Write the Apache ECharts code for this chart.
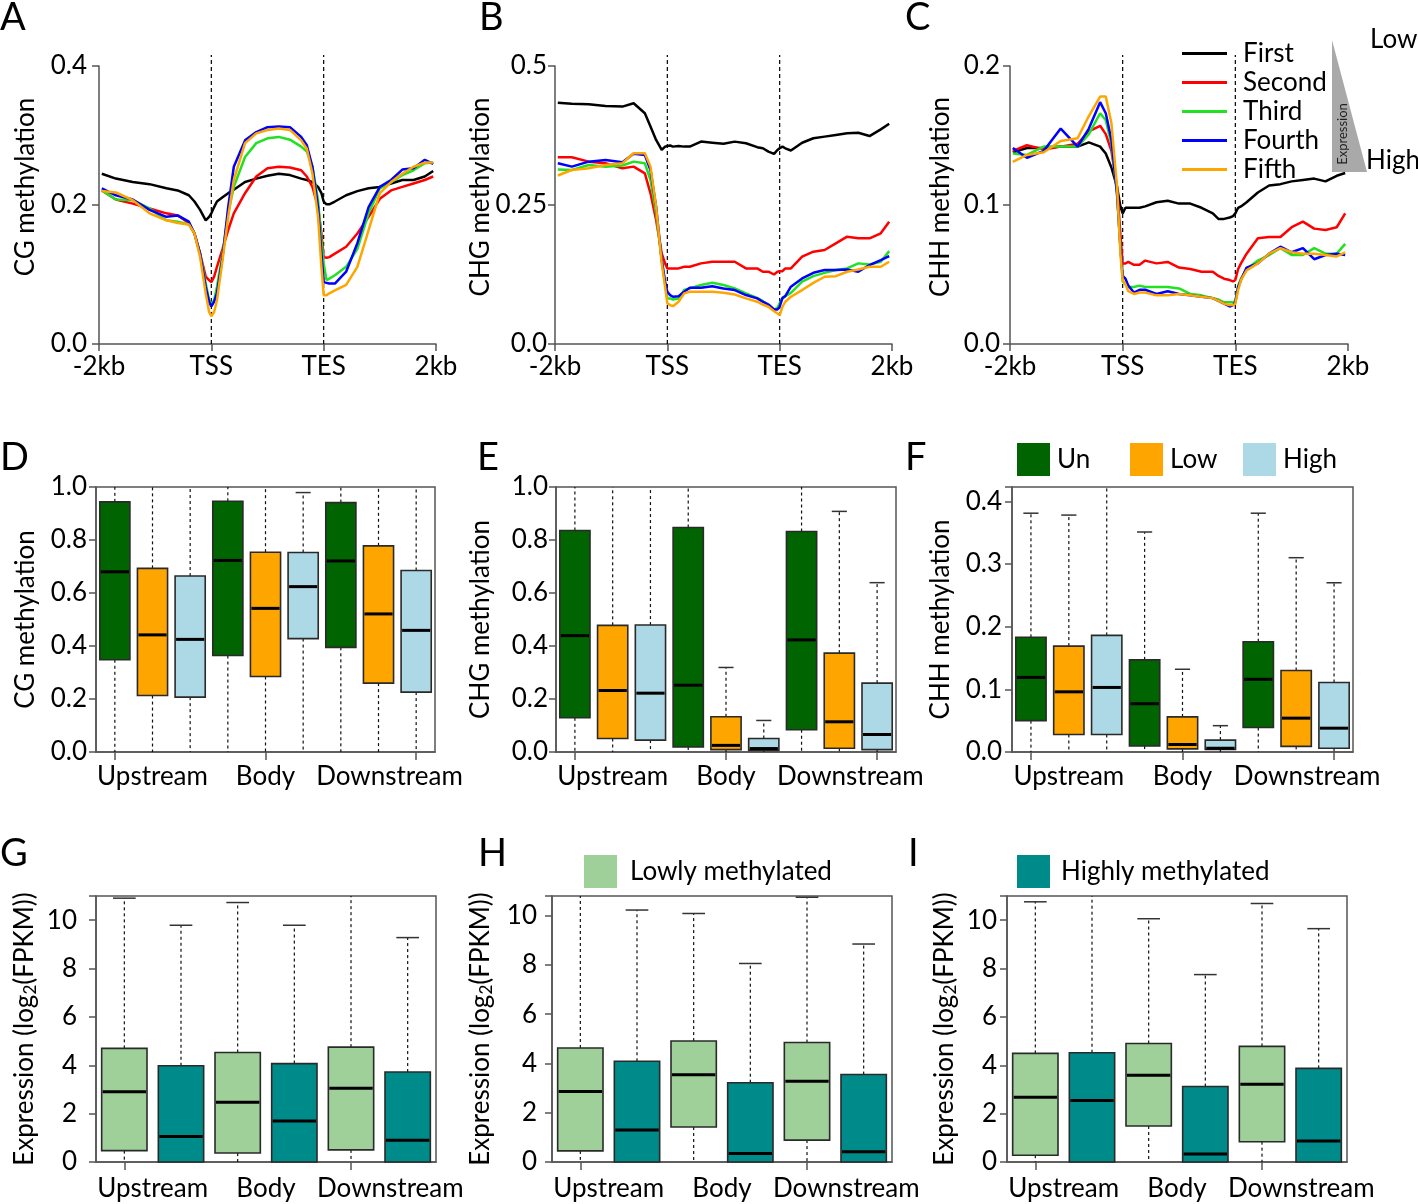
<!DOCTYPE html>
<html><head><meta charset="utf-8">
<script src="https://cdn.jsdelivr.net/npm/echarts@6/dist/echarts.min.js"></script>
<style>html,body{margin:0;padding:0;background:#fff}#c{width:1418px;height:1204px}</style>
</head><body><div id="c"></div>
<script>
// ---------------- DATA ----------------
// x positions in bins: 0..20 upstream (-2kb..TSS), 20..40 gene body, 40..60 downstream (TES..2kb)
const lineX = [0.5,3,6,9,12,14,16,17,18,19,19.6,20,20.5,21,22,23,24,26,28,30,32,34,36,37,38,39,39.6,40,40.5,41,42,44,46,48,50,52,54,56,58,59.5];
const posLabels = ['-2kb','TSS','TES','2kb'];
const expressionRanks = ['First','Second','Third','Fourth','Fifth'];

// Panel A: CG methylation profiles
const cgFirst  = [.245,.238,.233,.230,.224,.221,.214,.205,.193,.178,.183,.188,.197,.205,.211,.217,.222,.233,.238,.242,.245,.243,.238,.236,.233,.226,.217,.205,.201,.201,.205,.214,.220,.224,.226,.231,.236,.236,.241,.249];
const cgSecond = [.221,.208,.202,.195,.188,.185,.174,.159,.130,.097,.092,.089,.097,.111,.137,.164,.188,.217,.241,.253,.255,.254,.250,.241,.226,.197,.159,.125,.124,.125,.130,.140,.159,.183,.209,.221,.226,.231,.236,.241];
const cgThird  = [.221,.208,.207,.195,.178,.176,.172,.159,.130,.087,.063,.058,.063,.082,.130,.188,.226,.269,.289,.296,.298,.294,.284,.277,.255,.207,.149,.116,.092,.094,.099,.111,.137,.188,.224,.233,.243,.250,.260,.261];
const cgFourth = [.224,.214,.208,.193,.183,.185,.176,.159,.130,.082,.061,.054,.061,.073,.125,.197,.255,.293,.305,.312,.313,.312,.298,.286,.255,.197,.130,.089,.088,.087,.087,.104,.145,.197,.226,.236,.251,.253,.265,.259];
const cgFifth  = [.220,.218,.207,.188,.178,.174,.172,.159,.125,.073,.046,.040,.046,.063,.121,.183,.236,.289,.303,.308,.310,.308,.293,.281,.245,.183,.111,.070,.070,.073,.077,.085,.111,.164,.217,.233,.245,.255,.261,.261];
// Panel B: CHG
const chgFirst  = [.434,.432,.431,.428,.427,.433,.415,.391,.367,.349,.355,.356,.357,.355,.356,.355,.355,.364,.362,.360,.364,.361,.354,.352,.346,.342,.349,.352,.355,.352,.348,.362,.370,.373,.376,.379,.380,.374,.386,.396];
const chgSecond = [.336,.336,.328,.325,.316,.319,.307,.271,.223,.163,.145,.136,.136,.136,.136,.139,.139,.145,.148,.148,.148,.136,.136,.130,.130,.125,.130,.131,.131,.136,.136,.157,.166,.169,.181,.193,.190,.190,.199,.220];
const chgThird  = [.314,.313,.322,.319,.321,.328,.325,.295,.235,.151,.109,.082,.082,.080,.082,.097,.100,.106,.110,.106,.100,.091,.083,.077,.070,.062,.065,.073,.082,.086,.092,.112,.122,.128,.133,.136,.145,.143,.148,.167];
const chgFourth = [.325,.319,.328,.331,.327,.342,.340,.313,.247,.151,.112,.094,.088,.085,.086,.094,.101,.101,.104,.100,.097,.088,.082,.076,.071,.062,.062,.067,.083,.086,.103,.118,.128,.133,.133,.134,.130,.142,.151,.158];
const chgFifth  = [.303,.313,.316,.322,.325,.343,.343,.319,.247,.145,.103,.073,.070,.068,.076,.091,.094,.094,.094,.092,.089,.082,.076,.071,.067,.059,.055,.052,.067,.076,.085,.097,.110,.121,.122,.130,.134,.139,.139,.148];
// Panel C: CHH
const chhFirst  = [.138,.141,.141,.142,.142,.145,.142,.137,.127,.113,.099,.094,.098,.098,.098,.098,.099,.102,.103,.101,.101,.098,.094,.090,.090,.091,.092,.094,.098,.099,.102,.109,.114,.115,.117,.118,.119,.117,.121,.123];
const chhSecond = [.139,.143,.140,.142,.144,.153,.157,.151,.139,.113,.079,.058,.058,.059,.057,.057,.060,.058,.059,.055,.054,.052,.052,.049,.047,.046,.045,.046,.054,.058,.065,.076,.077,.077,.084,.088,.083,.082,.084,.094];
const chhThird  = [.137,.136,.142,.142,.142,.151,.166,.161,.144,.108,.070,.045,.043,.041,.041,.042,.041,.041,.041,.040,.036,.035,.033,.032,.030,.030,.030,.031,.042,.047,.054,.060,.064,.069,.064,.064,.069,.065,.065,.072];
const chhFourth = [.141,.134,.139,.155,.142,.155,.174,.166,.147,.108,.070,.049,.047,.042,.037,.039,.039,.036,.038,.036,.035,.034,.033,.031,.029,.027,.028,.030,.041,.046,.055,.058,.065,.070,.066,.069,.061,.064,.065,.064];
const chhFifth  = [.131,.136,.138,.146,.148,.164,.178,.178,.159,.113,.065,.046,.043,.038,.036,.037,.037,.035,.035,.036,.035,.034,.033,.031,.029,.028,.028,.029,.039,.046,.053,.058,.065,.069,.066,.065,.065,.064,.063,.066];

const cgLineTicks  = ['0.0','0.2','0.4'];
const chgLineTicks = ['0.0','0.25','0.5'];
const chhLineTicks = ['0.0','0.1','0.2'];

// Box plots: per region [whiskerLow, Q1, median, Q3, whiskerHigh]
const regions = ['Upstream','Body','Downstream'];
const methGroups = ['Un','Low','High'];
const cgUn   = [[0,.348,.680,.944,1.0],[0,.364,.723,.946,1.0],[0,.395,.721,.941,1.0]];
const cgLow  = [[0,.213,.442,.693,1.0],[0,.285,.542,.754,1.0],[0,.260,.521,.778,1.0]];
const cgHigh = [[0,.207,.425,.664,1.0],[0,.428,.624,.753,.979],[0,.226,.459,.685,1.0]];
const chgUn   = [[0,.129,.439,.836,1.0],[0,.019,.252,.847,1.0],[0,.084,.423,.832,1.0]];
const chgLow  = [[0,.051,.232,.478,1.0],[0,.009,.025,.133,.319],[0,.014,.114,.373,.908]];
const chgHigh = [[0,.045,.222,.479,1.0],[0,.006,.013,.051,.119],[0,.009,.066,.260,.639]];
const chhUn   = [[0,.050,.119,.183,.381],[0,.0095,.077,.147,.351],[0,.039,.116,.176,.381]];
const chhLow  = [[0,.028,.096,.169,.378],[0,.005,.012,.056,.132],[0,.009,.054,.130,.310]];
const chhHigh = [[0,.028,.103,.186,.45],[0,.004,.006,.019,.042],[0,.006,.038,.111,.270]];

const exprGroups = ['Lowly methylated','Highly methylated'];
const exprLowG  = [[0,.47,2.91,4.70,10.91],[0,.37,2.47,4.53,10.73],[0,.50,3.05,4.75,11.5]];
const exprHighG = [[0,0,1.05,3.98,9.79],[0,0,1.70,4.07,9.79],[0,0,0.90,3.72,9.28]];
const exprLowH  = [[0,.45,2.86,4.63,11.5],[0,1.42,3.54,4.91,10.09],[0,.89,3.28,4.85,10.75]];
const exprHighH = [[0,0,1.30,4.09,10.23],[0,0,.35,3.22,8.06],[0,0,.42,3.55,8.85]];
const exprLowI  = [[0,.28,2.68,4.49,10.76],[0,1.49,3.59,4.90,10.06],[0,.84,3.22,4.78,10.69]];
const exprHighI = [[0,0,2.54,4.52,11.5],[0,0,.33,3.12,7.75],[0,0,.87,3.87,9.65]];

const methTicks01 = ['0.0','0.2','0.4','0.6','0.8','1.0'];
const chhBoxTicks = ['0.0','0.1','0.2','0.3','0.4'];
const exprTicks = ['0','2','4','6','8','10'];

// ---------------- STYLE / LAYOUT ----------------
const FONT = 'Lato';
const AX = '#555';
const lineColors = ['#000000','#ff0000','#22e022','#0000ff','#ffa500'];
const methColors = ['#006400','#ffa500','#add8e6'];
const exprColors = ['#9fd09a','#008b8b'];

const grids = [], xAxes = [], yAxes = [], series = [];

function tickFormatter(ticks, interval) {
  return (v, i) => (ticks[i] !== undefined && Math.abs(v - i * interval) < 1e-9 ? ticks[i] : '');
}
function yAxisCfg(gi, max, interval, ticks, name, nameGap, margin, namePad, rich) {
  return {
    type: 'value', gridIndex: gi, min: 0, max: max, interval: interval,
    axisLine: { show: true, onZero: false, lineStyle: { color: AX, width: 1.5 } },
    axisTick: { show: true, length: 7, lineStyle: { color: AX, width: 1.5 } },
    splitLine: { show: false },
    axisLabel: { fontSize: 26, fontFamily: FONT, color: '#000', margin: margin, showMinLabel: true, showMaxLabel: true,
      formatter: tickFormatter(ticks, interval) },
    name: name, nameLocation: 'middle', nameGap: nameGap, nameRotate: 90, nameMoveOverlap: false,
    nameTextStyle: { fontSize: 26, fontFamily: FONT, color: '#000', padding: [0, 0, 0, namePad || 0], rich: rich || {} }
  };
}

// line panels
const linePanels = [
  { geo: [99, 66, 337], data: [cgFirst, cgSecond, cgThird, cgFourth, cgFifth], max: 0.4, interval: 0.2, ticks: cgLineTicks, name: 'CG methylation', nameGap: 60, margin: 12, namePad: 36 },
  { geo: [555, 66, 337], data: [chgFirst, chgSecond, chgThird, chgFourth, chgFifth], max: 0.5, interval: 0.25, ticks: chgLineTicks, name: 'CHG methylation', nameGap: 61, margin: 8, namePad: 16 },
  { geo: [1010, 66, 338], data: [chhFirst, chhSecond, chhThird, chhFourth, chhFifth], max: 0.2, interval: 0.1, ticks: chhLineTicks, name: 'CHH methylation', nameGap: 56, margin: 10, namePad: 16 }
];
linePanels.forEach((p, gi) => {
  grids.push({ left: p.geo[0], top: p.geo[1], width: p.geo[2], height: 278, containLabel: false, outerBoundsMode: 'none' });
  xAxes.push({
    type: 'value', gridIndex: gi, min: 0, max: 60, interval: 20,
    axisLine: { show: true, onZero: false, lineStyle: { color: AX, width: 1.5 } },
    axisTick: { show: true, length: 7, lineStyle: { color: AX, width: 1.5 } },
    splitLine: { show: false },
    axisLabel: { fontSize: 26, fontFamily: FONT, color: '#000', margin: 10, showMinLabel: true, showMaxLabel: true,
      formatter: v => posLabels[Math.round(v / 20)] }
  });
  yAxes.push(yAxisCfg(gi, p.max, p.interval, p.ticks, p.name, p.nameGap, p.margin, p.namePad));
  // dashed TSS / TES markers
  series.push({
    type: 'custom', xAxisIndex: gi, yAxisIndex: gi, z: 1, silent: true, clip: false,
    encode: { x: 0, y: 1 },
    data: [[20, 0], [40, 0]],
    renderItem: (params, api) => {
      const p0 = api.coord([api.value(0), 0]);
      const top = params.coordSys.y - 11;
      return { type: 'line', shape: { x1: p0[0], y1: p0[1], x2: p0[0], y2: top },
        style: { stroke: '#000', lineWidth: 1.2, lineDash: [4, 3] } };
    }
  });
  p.data.forEach((arr, k) => {
    series.push({
      type: 'line', name: expressionRanks[k], xAxisIndex: gi, yAxisIndex: gi, z: 3,
      showSymbol: false, symbol: 'none', smooth: false,
      lineStyle: { color: lineColors[k], width: 2.5 }, itemStyle: { color: lineColors[k] },
      data: lineX.map((x, i) => [x, arr[i]])
    });
  });
});

// box panels
function renderBox(params, api) {
  const slot = api.value(0);
  const cs = params.coordSys;
  const bw = api.size([1, 0])[0] * 0.8;
  const pLo = api.coord([slot, api.value(1)]);
  const pQ1 = api.coord([slot, api.value(2)]);
  const pMd = api.coord([slot, api.value(3)]);
  const pQ3 = api.coord([slot, api.value(4)]);
  const pHi = api.coord([slot, api.value(5)]);
  const cx = pQ1[0];
  const top = cs.y, bottom = cs.y + cs.height;
  const hiY = Math.max(pHi[1], top);
  const loY = Math.min(pLo[1], bottom);
  const capW = bw * 0.5;
  const dash = { stroke: '#111', lineWidth: 1.2, lineDash: [3, 3] };
  const ch = [];
  ch.push({ type: 'line', shape: { x1: cx, y1: pQ3[1], x2: cx, y2: hiY }, style: dash });
  ch.push({ type: 'line', shape: { x1: cx, y1: pQ1[1], x2: cx, y2: loY }, style: dash });
  if (pHi[1] > top + 1) ch.push({ type: 'line', shape: { x1: cx - capW / 2, y1: pHi[1], x2: cx + capW / 2, y2: pHi[1] }, style: { stroke: '#333', lineWidth: 1.5 } });
  if (pLo[1] < bottom - 1) ch.push({ type: 'line', shape: { x1: cx - capW / 2, y1: pLo[1], x2: cx + capW / 2, y2: pLo[1] }, style: { stroke: '#333', lineWidth: 1.5 } });
  ch.push({ type: 'rect', shape: { x: cx - bw / 2, y: pQ3[1], width: bw, height: pQ1[1] - pQ3[1] },
    style: { fill: api.visual('color'), stroke: '#2a2a2a', lineWidth: 1.6 } });
  ch.push({ type: 'line', shape: { x1: cx - bw / 2 + 1, y1: pMd[1], x2: cx + bw / 2 - 1, y2: pMd[1] }, style: { stroke: '#000', lineWidth: 3 } });
  return { type: 'group', children: ch };
}

const exprName = 'Expression (log{sub|2}(FPKM))';
const subRich = { sub: { fontSize: 17, fontFamily: FONT, color: '#000', verticalAlign: 'bottom', padding: [12, 0, 0, 0] } };
const boxPanels = [
  { geo: [96, 487, 339, 265], sets: [cgUn, cgLow, cgHigh], names: methGroups, colors: methColors, max: 1.0, interval: 0.2, ticks: methTicks01, name: 'CG methylation', nameGap: 57, margin: 9, lblMargin: 12 },
  { geo: [556, 487, 340, 265], sets: [chgUn, chgLow, chgHigh], names: methGroups, colors: methColors, max: 1.0, interval: 0.2, ticks: methTicks01, name: 'CHG methylation', nameGap: 62, margin: 8, lblMargin: 12 },
  { geo: [1012, 487, 341, 265], sets: [chhUn, chhLow, chhHigh], names: methGroups, colors: methColors, max: 0.4228, interval: 0.1, ticks: chhBoxTicks, name: 'CHH methylation', nameGap: 58, margin: 10, lblMargin: 12 },
  { geo: [96, 896, 340, 266], sets: [exprLowG, exprHighG], names: exprGroups, colors: exprColors, max: 11, interval: 2, ticks: exprTicks, name: exprName, nameGap: 57, margin: 19, lblMargin: 14 },
  { geo: [552, 896, 340, 266], sets: [exprLowH, exprHighH], names: exprGroups, colors: exprColors, max: 10.8, interval: 2, ticks: exprTicks, name: exprName, nameGap: 57, margin: 15, lblMargin: 14 },
  { geo: [1007, 896, 340, 266], sets: [exprLowI, exprHighI], names: exprGroups, colors: exprColors, max: 11, interval: 2, ticks: exprTicks, name: exprName, nameGap: 48, margin: 10, lblMargin: 14 }
];
boxPanels.forEach((p, j) => {
  const gi = 3 + j;
  const nG = p.sets.length;
  grids.push({ left: p.geo[0], top: p.geo[1], width: p.geo[2], height: p.geo[3], containLabel: false, outerBoundsMode: 'none',
    show: true, borderColor: AX, borderWidth: 1.5, backgroundColor: 'transparent' });
  const slots = [];
  regions.forEach(r => p.names.forEach(g => slots.push(r + ' ' + g)));
  const slotAxis = xAxes.length;
  xAxes.push({
    type: 'category', gridIndex: gi, data: slots, position: 'bottom', boundaryGap: true,
    axisLine: { show: true, onZero: false, lineStyle: { color: AX, width: 1.5 } },
    axisTick: { show: true, alignWithLabel: true, length: 8, lineStyle: { color: AX, width: 1.5 } },
    axisLabel: { show: false }, splitLine: { show: false }
  });
  xAxes.push({
    type: 'category', gridIndex: gi, data: regions, position: 'bottom', boundaryGap: true,
    axisLine: { show: false }, axisTick: { show: false }, splitLine: { show: false },
    axisLabel: { fontSize: 26, fontFamily: FONT, color: '#000', margin: p.lblMargin, interval: 0,
      formatter: v => (v === 'Downstream' ? '{d|' + v + '}' : v),
      rich: { d: { fontSize: 26, fontFamily: FONT, color: '#000', padding: [0, 0, 0, 22] } } }
  });
  yAxes.push(yAxisCfg(gi, p.max, p.interval, p.ticks, p.name, p.nameGap, p.margin, 0, subRich));
  p.sets.forEach((set, g) => {
    series.push({
      type: 'custom', name: p.names[g], xAxisIndex: slotAxis, yAxisIndex: gi, z: 3,
      itemStyle: { color: p.colors[g] },
      encode: { x: 0, y: [1, 2, 3, 4, 5] },
      data: set.map((b, r) => [r * nG + g].concat(b)),
      renderItem: renderBox
    });
  });
});

// ---------------- OPTION ----------------
const graphic = [];
[['A', 0, 21], ['B', 479, 21], ['C', 905, 21], ['D', 0, 461], ['E', 477, 461], ['F', 905, 461], ['G', 0, 857], ['H', 478, 857], ['I', 908, 857]]
  .forEach(t => graphic.push({ type: 'text', left: t[1], top: t[2] - 22, style: { text: t[0], font: '38px ' + FONT, fill: '#000' } }));
graphic.push({ type: 'polygon', shape: { points: [[1332, 40], [1332, 172], [1367, 172]] }, style: { fill: '#a9a9a9' } });
graphic.push({ type: 'text', x: 1343, y: 134, rotation: Math.PI / 2, style: { text: 'Expression', font: '13px ' + FONT, fill: '#222', align: 'center', verticalAlign: 'middle' } });
graphic.push({ type: 'text', x: 1370, y: 40, style: { text: 'Low', font: '26px ' + FONT, fill: '#000', verticalAlign: 'middle' } });
graphic.push({ type: 'text', x: 1366, y: 161, style: { text: 'High', font: '26px ' + FONT, fill: '#000', verticalAlign: 'middle' } });

const legendText = { fontSize: 26, fontFamily: FONT, color: '#000' };
const squareLegend = (name, left, top, pad) => ({
  data: [name], left: left, top: top, padding: 0, icon: 'rect', itemWidth: 33, itemHeight: 33,
  itemStyle: { borderWidth: 0 }, textStyle: Object.assign({ padding: [0, 0, 0, pad] }, legendText), selectedMode: false
});
const option = {
  animation: false,
  backgroundColor: '#fff',
  textStyle: { fontFamily: FONT },
  grid: grids, xAxis: xAxes, yAxis: yAxes, series: series,
  legend: [
    { data: expressionRanks, orient: 'vertical', left: 1182, top: 39, padding: 0, icon: 'rect', itemWidth: 45, itemHeight: 3, itemGap: 0,
      textStyle: Object.assign({ lineHeight: 29, padding: [0, 0, 0, 11] }, legendText), selectedMode: false },
    squareLegend(methGroups[0], 1017, 443, 2),
    squareLegend(methGroups[1], 1130, 443, 2),
    squareLegend(methGroups[2], 1243, 443, 2),
    squareLegend(exprGroups[0], 584, 855, 8),
    squareLegend(exprGroups[1], 1017, 855, 6)
  ],
  graphic: graphic
};
const chart = echarts.init(document.getElementById('c'));
chart.setOption(option);
</script></body></html>
